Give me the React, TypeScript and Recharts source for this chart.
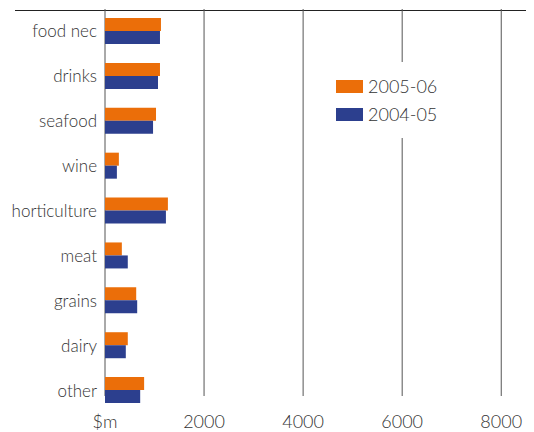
import React from 'react';
import { BarChart, Bar, XAxis, YAxis, CartesianGrid, Legend } from 'recharts';

const categories = ['food nec', 'drinks', 'seafood', 'wine', 'horticulture', 'meat', 'grains', 'dairy', 'other'];
const values0506 = [1130, 1110, 1030, 280, 1270, 340, 630, 460, 790];
const values0405 = [1110, 1070, 970, 240, 1230, 460, 650, 420, 710];
const xTicks = [0, 2000, 4000, 6000, 8000];
const seriesNames = ['2005-06', '2004-05'];

const data = categories.map((name, i) => ({
  name,
  y0506: values0506[i],
  y0405: values0405[i],
}));

const FONT = 'Lato, "Open Sans", sans-serif';
const ORANGE = '#EB6E09';
const BLUE = '#2C3F8E';

// grid lines stop short of the bottom, like the original
const gridLine = (p: any) => {
  if (p.x1 > 520) return <g key={p.key} />;
  return <line key={p.key} x1={p.x1} x2={p.x2} y1={p.y1} y2={p.y2 - 17} stroke="#555" strokeWidth={1} />;
};

const LegendBox = ({ payload }: any) => {
  const items = [...(payload || [])].sort(
    (a: any, b: any) => seriesNames.indexOf(a.value) - seriesNames.indexOf(b.value)
  );
  return (
    <div style={{ background: '#fff', padding: '10px 6px' }}>
      {items.map((item: any) => (
        <div key={item.value} style={{ display: 'flex', alignItems: 'center', height: 28 }}>
          <span style={{ width: 27, height: 13, background: item.color, display: 'inline-block', marginRight: 5 }} />
          <span style={{ fontFamily: FONT, fontWeight: 300, fontSize: 18, color: '#333' }}>{item.value}</span>
        </div>
      ))}
    </div>
  );
};

export default function App() {
  return (
    <div style={{ position: 'absolute', left: 0, top: 0, width: 534, height: 432, background: '#fff' }}>
      <div style={{ position: 'absolute', left: 15, top: 10, width: 511, height: 1, background: '#222' }} />
      <BarChart
        width={534}
        height={432}
        data={data}
        layout="vertical"
        margin={{ top: 9, right: 8, left: 5, bottom: 0 }}
        barGap={0}
      >
        <CartesianGrid horizontal={false} vertical={gridLine} />
        <XAxis
          type="number"
          domain={[0, 8500]}
          ticks={xTicks}
          height={19}
          axisLine={false}
          tickLine={false}
          tickMargin={-4}
          tickFormatter={(v: number) => (v === 0 ? '$m' : String(v))}
          tick={{ fill: '#333', fontSize: 18, fontFamily: FONT, fontWeight: 300 }}
        />
        <YAxis
          type="category"
          dataKey="name"
          width={100}
          axisLine={false}
          tickLine={false}
          tick={{ fill: '#333', fontSize: 17, fontFamily: FONT, fontWeight: 300 }}
        />
        <Legend
          layout="vertical"
          align="center"
          verticalAlign="middle"
          content={<LegendBox />}
          wrapperStyle={{ left: 330, top: 62, width: 120 }}
        />
        <Bar dataKey="y0506" name={seriesNames[0]} fill={ORANGE} barSize={13} isAnimationActive={false} />
        <Bar dataKey="y0405" name={seriesNames[1]} fill={BLUE} barSize={13} isAnimationActive={false} />
      </BarChart>
    </div>
  );
}
